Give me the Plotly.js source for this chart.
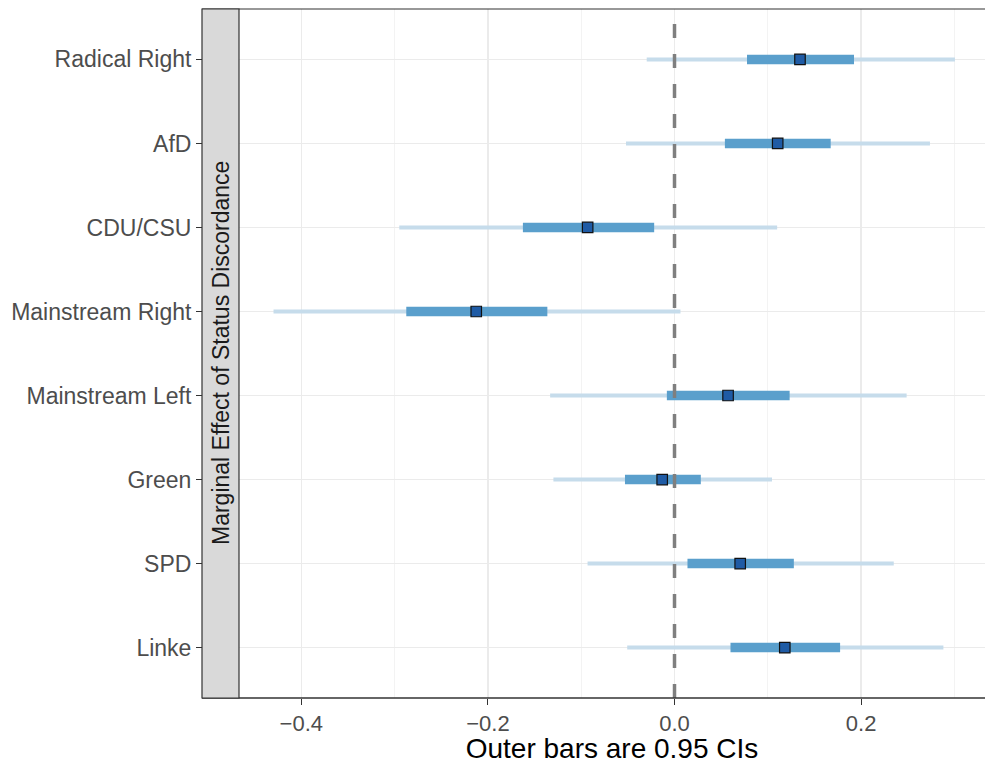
<!DOCTYPE html>
<html>
<head>
<meta charset="utf-8">
<script src="https://cdn.plot.ly/plotly-3.0.1.min.js"></script>
<style>html,body{margin:0;padding:0;background:#fff;}</style>
</head>
<body>
<div id="chart" style="width:985px;height:764px;"></div>
<script>
// Categories, top to bottom
const categories = ["Radical Right", "AfD", "CDU/CSU", "Mainstream Right", "Mainstream Left", "Green", "SPD", "Linke"];
const estimate   = [0.1345, 0.1106, -0.0931, -0.2125, 0.0574, -0.0132, 0.0704, 0.1182];
const lower95    = [-0.0298, -0.0520, -0.2950, -0.4298, -0.1333, -0.1298, -0.0932, -0.0507];
const upper95    = [0.3006, 0.2738, 0.1100, 0.0064, 0.2488, 0.1045, 0.2350, 0.2882];
const lowerInner = [0.0777, 0.0540, -0.1625, -0.2875, -0.0082, -0.0531, 0.0139, 0.0600];
const upperInner = [0.1924, 0.1674, -0.0218, -0.1363, 0.1234, 0.0282, 0.1279, 0.1775];
const xTickVals  = [-0.4, -0.2, 0.0, 0.2];
const xMinorVals = [-0.3, -0.1, 0.1, 0.3];
const stripLabel = "Marginal Effect of Status Discordance";
const xTitle     = "Outer bars are 0.95 CIs";

const FONT = "Liberation Sans, Arial, Helvetica, sans-serif";
const W = 985, H = 764, ML = 202, MR = 0, MT = 9, MB = 66;
const stripW = 37;
const plotW = W - ML - MR;
const dStart = stripW / plotW;

const outerTrace = {
  type: "scatter", mode: "markers", x: estimate, y: categories,
  marker: {size: 1, opacity: 0},
  error_x: {type: "data", symmetric: false,
    array: upper95.map((v, i) => v - estimate[i]),
    arrayminus: lower95.map((v, i) => estimate[i] - v),
    color: "#C6DCEB", thickness: 4, width: 0},
  hoverinfo: "skip", showlegend: false
};
const innerTrace = {
  type: "scatter", mode: "markers", x: estimate, y: categories,
  marker: {size: 1, opacity: 0},
  error_x: {type: "data", symmetric: false,
    array: upperInner.map((v, i) => v - estimate[i]),
    arrayminus: lowerInner.map((v, i) => estimate[i] - v),
    color: "#5A9FCC", thickness: 9.5, width: 0},
  hoverinfo: "skip", showlegend: false
};
const pointTrace = {
  type: "scatter", mode: "markers", x: estimate, y: categories,
  marker: {symbol: "square", size: 10.5, color: "#1F5BA5", line: {color: "#111111", width: 1.2}},
  hoverinfo: "skip", showlegend: false
};

const layout = {
  width: W, height: H,
  margin: {l: ML, r: MR, t: MT, b: MB, pad: 0},
  paper_bgcolor: "#ffffff", plot_bgcolor: "#ffffff",
  font: {family: FONT},
  showlegend: false,
  xaxis: {
    domain: [dStart, 1],
    range: [-0.4668, 0.3328],
    tickvals: xTickVals, tickformat: ".1f",
    ticks: "outside", ticklen: 6, tickwidth: 1.1, tickcolor: "#333333",
    tickfont: {family: FONT, size: 22, color: "#4D4D4D"},
    showgrid: true, gridcolor: "#EBEBEB", gridwidth: 1.2,
    minor: {tickvals: xMinorVals, showgrid: true, gridcolor: "#EBEBEB", gridwidth: 0.6, ticks: ""},
    zeroline: false, showline: false,
    title: {text: xTitle, font: {family: FONT, size: 28, color: "#000000"}, standoff: 0},
    automargin: false
  },
  yaxis: {
    type: "category",
    categoryorder: "array",
    categoryarray: categories.slice().reverse(),
    range: [-0.6, 7.6],
    anchor: "free", position: 0,
    ticks: "outside", ticklen: 6, tickwidth: 1.1, tickcolor: "#333333",
    tickfont: {family: FONT, size: 23, color: "#4D4D4D"},
    showgrid: true, gridcolor: "#EBEBEB", gridwidth: 1.2,
    zeroline: false, showline: false,
    automargin: false
  },
  shapes: [
    {type: "line", xref: "x", yref: "paper", x0: 0, x1: 0, y0: 0, y1: 1,
     line: {color: "#7F7F7F", width: 3.5, dash: "14px,16px"}, layer: "above"},
    {type: "line", xref: "paper", yref: "paper", x0: 0, x1: 1, y0: 1, y1: 1,
     line: {color: "#333333", width: 1.2}, layer: "above"},
    {type: "line", xref: "paper", yref: "paper", x0: 0, x1: 1, y0: 0, y1: 0,
     line: {color: "#333333", width: 1.4}, layer: "above"},
    {type: "rect", xref: "paper", yref: "paper", x0: 0, x1: dStart, y0: 0, y1: 1,
     line: {color: "#333333", width: 1.2}, fillcolor: "#D9D9D9", layer: "above"}
  ],
  annotations: [
    {text: stripLabel, xref: "paper", yref: "paper", x: dStart / 2, y: 0.5,
     xanchor: "center", yanchor: "middle", textangle: -90, showarrow: false,
     font: {family: FONT, size: 23, color: "#1A1A1A"}}
  ]
};

Plotly.newPlot("chart", [outerTrace, innerTrace, pointTrace], layout, {displayModeBar: false, staticPlot: true});
</script>
</body>
</html>
